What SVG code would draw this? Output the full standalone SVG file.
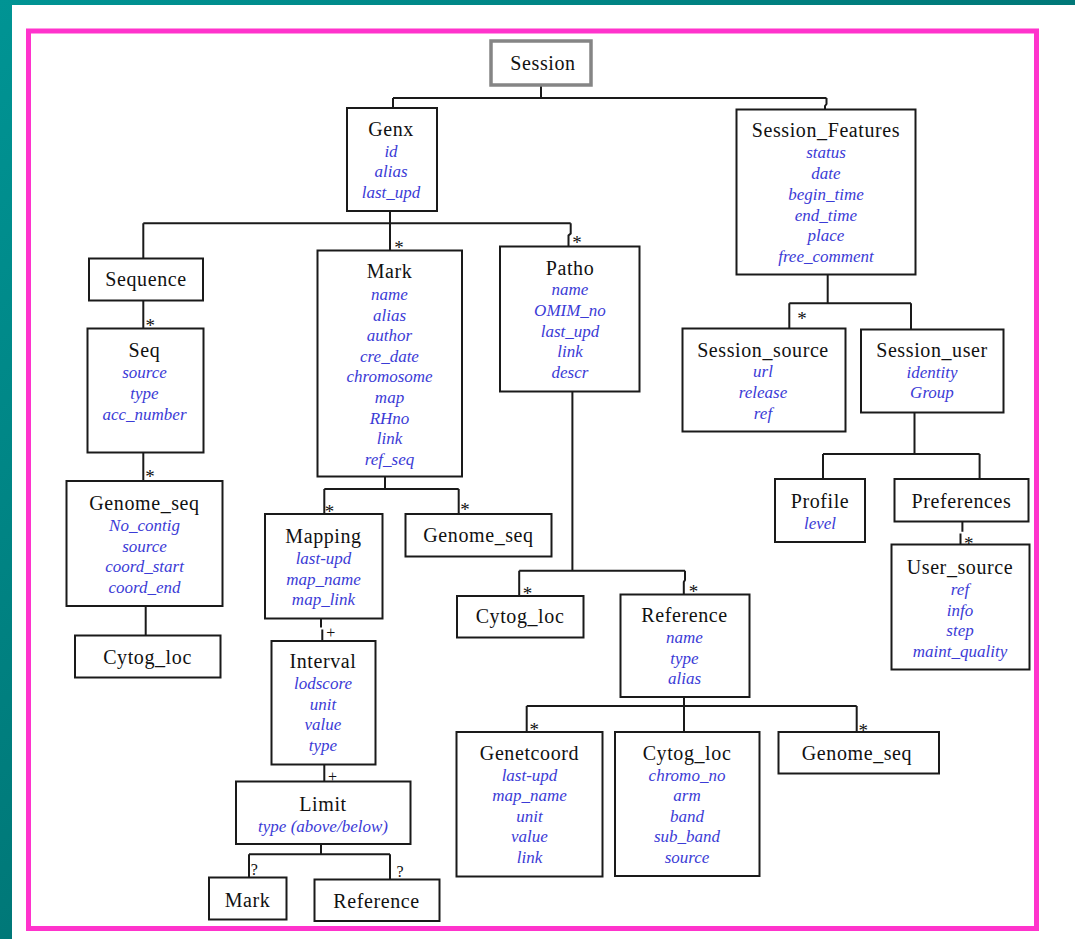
<svg xmlns="http://www.w3.org/2000/svg" width="1075" height="939" viewBox="0 0 1075 939">
  <defs>
    <linearGradient id="teal" x1="0" y1="0" x2="1" y2="1">
      <stop offset="0" stop-color="#009494"/>
      <stop offset="1" stop-color="#005c5c"/>
    </linearGradient>
    <style>
      .box { fill: #ffffff; stroke: #1a1a1a; stroke-width: 2; }
      .root { fill: #ffffff; stroke: #858585; stroke-width: 3.5; }
      .t { font-family: "Liberation Serif", "Times New Roman", serif; font-size: 20px; letter-spacing: 0.6px; text-anchor: middle; fill: #111111; }
      .a { font-family: "Liberation Serif", "Times New Roman", serif; font-size: 17px; font-style: italic; text-anchor: middle; fill: #3b3bd6; }
      .c { fill: none; stroke: #1a1a1a; stroke-width: 2; }
      .m { font-family: "Liberation Serif", "Times New Roman", serif; font-size: 16px; text-anchor: middle; fill: #111111; }
      .s { font-family: "Liberation Serif", "Times New Roman", serif; font-size: 19px; text-anchor: middle; fill: #111111; }
    </style>
  </defs>

  <!-- slide background and frame -->
  <rect x="0" y="0" width="1075" height="939" fill="url(#teal)"/>
  <rect x="12" y="5" width="1063" height="934" fill="#ffffff"/>
  <rect x="28.5" y="31" width="1008" height="897.5" fill="none" stroke="#ff33cc" stroke-width="5"/>

  <!-- connectors -->
  <g id="connectors">
    <path class="c" d="M541 85 V98 M393 98 H826.5 M393 98 V108 M826.5 98 V104 L825 106 V109.5"/>
    <path class="c" d="M390 211 V223.3 M143.3 223.3 H570.7 M143.3 223.3 V258.5 M390 223.3 V250.5 M570.7 223.3 V233.5 L568.5 235.5 V246.5"/>
    <path class="c" d="M143.3 300.5 V328.5 M143.3 452.5 V481 M145.7 606 V635.5"/>
    <path class="c" d="M385 476.5 V489 M324.3 489 H458.7 M324.3 489 V514 M458.7 489 V514"/>
    <path class="c" d="M321 618.5 V627.5 M322.3 629.5 V641 M324.3 764.5 V781.5"/>
    <path class="c" d="M321 844 V854.3 M249 854.3 H390 M249 854.3 V877.5 M390 854.3 V879.5"/>
    <path class="c" d="M572.4 391.5 V570.7 M519.2 570.7 H685 M519.2 570.7 V596 M685 570.7 V580 L683.8 582 V594.5"/>
    <path class="c" d="M684 697 V732 M526.7 706 H856.7 M526.7 706 V732 M856.7 706 V732"/>
    <path class="c" d="M827.7 274.5 V303.3 M789.3 303.3 H911 M789.3 303.3 V328.5 M911 303.3 V329.5"/>
    <path class="c" d="M914.5 412.5 V454 M823 454 H979.6 M823 454 V479 M979.6 454 V479"/>
    <path class="c" d="M962.4 521.5 V531.7 M960.5 533.5 V544.5"/>
    <!-- multiplicities -->
    <text class="s" x="399" y="254.3">*</text>
    <text class="s" x="577" y="248.8">*</text>
    <text class="s" x="150.3" y="332.1">*</text>
    <text class="s" x="150" y="482.6">*</text>
    <text class="s" x="329.5" y="518.3">*</text>
    <text class="s" x="465" y="516">*</text>
    <text class="s" x="802" y="324.6">*</text>
    <text class="s" x="527.4" y="600.1">*</text>
    <text class="s" x="693.5" y="598.1">*</text>
    <text class="s" x="968.7" y="550.1">*</text>
    <text class="s" x="534.2" y="736">*</text>
    <text class="s" x="863.2" y="736.8">*</text>
    <text class="m" x="330.8" y="638">+</text>
    <text class="m" x="332.5" y="782">+</text>
    <text class="m" x="254.3" y="875">?</text>
    <text class="m" x="400" y="876.7">?</text>
  </g>

  <g id="session">
    <rect class="root" x="491" y="41" width="100" height="44"/>
    <text class="t" x="543" y="70">Session</text>
  </g>

  <g id="genx">
    <rect class="box" x="347" y="108" width="90" height="103"/>
    <text class="t" x="391" y="136">Genx</text>
    <text class="a" x="391" y="156.7">id</text>
    <text class="a" x="391" y="177.3">alias</text>
    <text class="a" x="391" y="197.9">last_upd</text>
  </g>

  <g id="session-features">
    <rect class="box" x="736.5" y="109.5" width="179" height="165"/>
    <text class="t" x="826" y="137.3">Session_Features</text>
    <text class="a" x="826" y="158.3">status</text>
    <text class="a" x="826" y="179">date</text>
    <text class="a" x="826" y="199.8">begin_time</text>
    <text class="a" x="826" y="220.6">end_time</text>
    <text class="a" x="826" y="241.4">place</text>
    <text class="a" x="826" y="262.2">free_comment</text>
  </g>

  <g id="sequence">
    <rect class="box" x="89" y="258.5" width="114" height="42"/>
    <text class="t" x="146" y="285.7">Sequence</text>
  </g>

  <g id="mark">
    <rect class="box" x="317.5" y="250.5" width="144.5" height="226"/>
    <text class="t" x="389.5" y="278.3">Mark</text>
    <text class="a" x="389.5" y="300">name</text>
    <text class="a" x="389.5" y="320.6">alias</text>
    <text class="a" x="389.5" y="341.2">author</text>
    <text class="a" x="389.5" y="361.8">cre_date</text>
    <text class="a" x="389.5" y="382.4">chromosome</text>
    <text class="a" x="389.5" y="403">map</text>
    <text class="a" x="389.5" y="423.6">RHno</text>
    <text class="a" x="389.5" y="444.2">link</text>
    <text class="a" x="389.5" y="464.8">ref_seq</text>
  </g>

  <g id="patho">
    <rect class="box" x="500" y="246.5" width="139.5" height="145"/>
    <text class="t" x="570" y="275">Patho</text>
    <text class="a" x="570" y="295.3">name</text>
    <text class="a" x="570" y="315.9">OMIM_no</text>
    <text class="a" x="570" y="336.5">last_upd</text>
    <text class="a" x="570" y="357.1">link</text>
    <text class="a" x="570" y="377.7">descr</text>
  </g>

  <g id="seq">
    <rect class="box" x="87.5" y="328.5" width="116" height="124"/>
    <text class="t" x="144.5" y="356.7">Seq</text>
    <text class="a" x="144.5" y="378.3">source</text>
    <text class="a" x="144.5" y="398.9">type</text>
    <text class="a" x="144.5" y="419.5">acc_number</text>
  </g>

  <g id="session-source">
    <rect class="box" x="682.5" y="328.5" width="163" height="103"/>
    <text class="t" x="763" y="356.7">Session_source</text>
    <text class="a" x="763" y="377.3">url</text>
    <text class="a" x="763" y="397.9">release</text>
    <text class="a" x="763" y="418.5">ref</text>
  </g>

  <g id="session-user">
    <rect class="box" x="861" y="329.5" width="142.5" height="83"/>
    <text class="t" x="932" y="357">Session_user</text>
    <text class="a" x="932" y="377.5">identity</text>
    <text class="a" x="932" y="398">Group</text>
  </g>

  <g id="genome-seq-a">
    <rect class="box" x="66.5" y="481" width="156" height="125"/>
    <text class="t" x="144.5" y="510">Genome_seq</text>
    <text class="a" x="144.5" y="531">No_contig</text>
    <text class="a" x="144.5" y="551.6">source</text>
    <text class="a" x="144.5" y="572.2">coord_start</text>
    <text class="a" x="144.5" y="592.8">coord_end</text>
  </g>

  <g id="mapping">
    <rect class="box" x="265" y="514" width="117.5" height="104.5"/>
    <text class="t" x="323.5" y="543.3">Mapping</text>
    <text class="a" x="323.5" y="564">last-upd</text>
    <text class="a" x="323.5" y="584.6">map_name</text>
    <text class="a" x="323.5" y="605.2">map_link</text>
  </g>

  <g id="genome-seq-b">
    <rect class="box" x="405.5" y="514" width="146" height="42.5"/>
    <text class="t" x="478.5" y="542">Genome_seq</text>
  </g>

  <g id="profile">
    <rect class="box" x="775" y="479" width="90" height="63"/>
    <text class="t" x="820" y="508.3">Profile</text>
    <text class="a" x="820" y="529">level</text>
  </g>

  <g id="preferences">
    <rect class="box" x="894.5" y="479" width="134" height="42.5"/>
    <text class="t" x="961.5" y="508.3">Preferences</text>
  </g>

  <g id="user-source">
    <rect class="box" x="891.5" y="544.5" width="138" height="125"/>
    <text class="t" x="960" y="574">User_source</text>
    <text class="a" x="960" y="595">ref</text>
    <text class="a" x="960" y="615.6">info</text>
    <text class="a" x="960" y="636.2">step</text>
    <text class="a" x="960" y="656.8">maint_quality</text>
  </g>

  <g id="cytog-loc-a">
    <rect class="box" x="75" y="635.5" width="145.5" height="42"/>
    <text class="t" x="147.5" y="663.5">Cytog_loc</text>
  </g>

  <g id="cytog-loc-b">
    <rect class="box" x="457" y="596" width="126.5" height="41.5"/>
    <text class="t" x="520" y="623.3">Cytog_loc</text>
  </g>

  <g id="reference">
    <rect class="box" x="620.5" y="594.5" width="129" height="102.5"/>
    <text class="t" x="684.5" y="621.7">Reference</text>
    <text class="a" x="684.5" y="643">name</text>
    <text class="a" x="684.5" y="663.6">type</text>
    <text class="a" x="684.5" y="684.2">alias</text>
  </g>

  <g id="interval">
    <rect class="box" x="271.5" y="641" width="104" height="123.5"/>
    <text class="t" x="323" y="668.3">Interval</text>
    <text class="a" x="323" y="688.9">lodscore</text>
    <text class="a" x="323" y="709.5">unit</text>
    <text class="a" x="323" y="730.1">value</text>
    <text class="a" x="323" y="750.7">type</text>
  </g>

  <g id="genetcoord">
    <rect class="box" x="456.5" y="732" width="146" height="144.5"/>
    <text class="t" x="529.5" y="760">Genetcoord</text>
    <text class="a" x="529.5" y="780.6">last-upd</text>
    <text class="a" x="529.5" y="801.2">map_name</text>
    <text class="a" x="529.5" y="821.8">unit</text>
    <text class="a" x="529.5" y="842.4">value</text>
    <text class="a" x="529.5" y="863">link</text>
  </g>

  <g id="cytog-loc-c">
    <rect class="box" x="615" y="732" width="144.5" height="144"/>
    <text class="t" x="687" y="760">Cytog_loc</text>
    <text class="a" x="687" y="780.6">chromo_no</text>
    <text class="a" x="687" y="801.2">arm</text>
    <text class="a" x="687" y="821.8">band</text>
    <text class="a" x="687" y="842.4">sub_band</text>
    <text class="a" x="687" y="863">source</text>
  </g>

  <g id="genome-seq-c">
    <rect class="box" x="778.5" y="732" width="160.5" height="41.5"/>
    <text class="t" x="857" y="760">Genome_seq</text>
  </g>

  <g id="limit">
    <rect class="box" x="236" y="781.5" width="174.5" height="62.5"/>
    <text class="t" x="323" y="811">Limit</text>
    <text class="a" x="323" y="831.5">type (above/below)</text>
  </g>

  <g id="mark-ref">
    <rect class="box" x="209" y="877.5" width="77.5" height="42"/>
    <text class="t" x="247.5" y="906.7">Mark</text>
  </g>

  <g id="reference-ref">
    <rect class="box" x="314.5" y="879.5" width="125" height="41.5"/>
    <text class="t" x="376.5" y="907.7">Reference</text>
  </g>
</svg>
